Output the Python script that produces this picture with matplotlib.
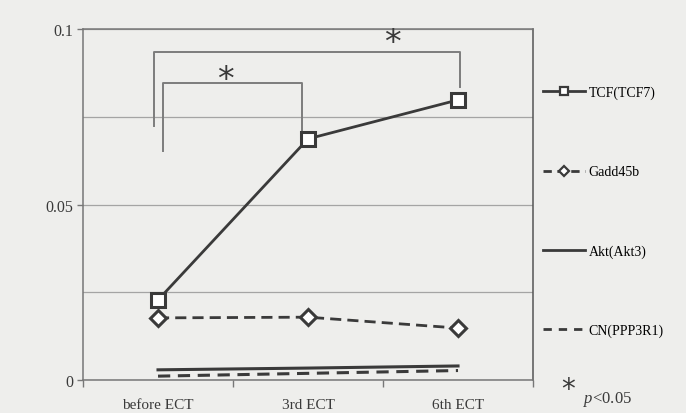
import matplotlib

matplotlib.use("Agg")
import matplotlib.pyplot as plt
from matplotlib.lines import Line2D
import numpy as np

categories = ["before ECT", "3rd ECT", "6th ECT"]
tcf = [0.0228, 0.0687, 0.0798]
gadd45b = [0.0177, 0.0179, 0.0148]
akt = [0.0029, 0.0034, 0.0040]
cn = [0.0011, 0.0019, 0.0027]
series_names = ["TCF(TCF7)", "Gadd45b", "Akt(Akt3)", "CN(PPP3R1)"]

BG = "#eeeeec"
INK = "#3a3a3a"

plt.rcParams.update({
    "font.family": ["Liberation Serif", "DejaVu Serif"],
    "mathtext.fontset": "custom",
    "mathtext.it": "Liberation Serif:italic",
    "mathtext.rm": "Liberation Serif",
})

fig = plt.figure(figsize=(6.86, 4.14), dpi=100, facecolor=BG)
ax = fig.add_axes([0.121, 0.0797, 0.656, 0.8478], facecolor=BG)

x = np.arange(len(categories))

ax.plot(x, tcf, color=INK, lw=2.0, marker="s", ms=10, mfc="white", mec=INK, mew=2.2, zorder=4)
ax.plot(x, gadd45b, color=INK, lw=2.0, ls=(0, (4, 2.2)), marker="D", ms=8, mfc="white", mec=INK, mew=2.2, zorder=4)
ax.plot(x, akt, color=INK, lw=2.2, zorder=3)
ax.plot(x, cn, color=INK, lw=2.2, ls=(0, (4, 2.5)), zorder=3)

# significance brackets (before vs 6th, before vs 3rd)
bc = "#7c7c7c"
ax.plot([-0.03, -0.03, 2.01, 2.01], [0.0724, 0.0934, 0.0934, 0.0835], color=bc, lw=1.4, zorder=2)
ax.plot([0.03, 0.03, 0.96, 0.96], [0.0652, 0.0846, 0.0846, 0.0709], color=bc, lw=1.4, zorder=2)
ax.text(1.56, 0.0962, "*", fontsize=24, ha="center", va="center", color=INK, family="DejaVu Sans")
ax.text(0.45, 0.0857, "*", fontsize=24, ha="center", va="center", color=INK, family="DejaVu Sans")

ax.set_xlim(-0.5, 2.5)
ax.set_ylim(0, 0.1)
ax.set_yticks([0, 0.05, 0.1])
ax.set_yticklabels(["0", "0.05", "0.1"])
ax.set_yticks([0.025, 0.075], minor=True)
ax.set_xticks(x)
ax.set_xticklabels(categories)
ax.set_xticks([-0.5, 0.5, 1.5, 2.5], minor=True)
ax.tick_params(axis="x", which="major", length=0, pad=13, labelsize=11, colors=INK)
ax.tick_params(axis="x", which="minor", length=5, width=1, color="#777777", direction="out")
ax.tick_params(axis="y", which="major", length=4, width=1, color="#777777", labelsize=11.5, labelcolor=INK, pad=3)
ax.tick_params(axis="y", which="minor", length=0)
ax.grid(True, axis="y", which="both", color="#a4a4a4", lw=0.9)
ax.set_axisbelow(True)
for side in ["left", "right", "top", "bottom"]:
    ax.spines[side].set_color("#777777")
    ax.spines[side].set_linewidth(1.1)
ax.spines["right"].set_color("#555555")

handles = [
    Line2D([], [], color=INK, lw=2.0, marker="s", ms=6, mfc="white", mec=INK, mew=1.6),
    Line2D([], [], color=INK, lw=2.0, ls=(0, (3, 2)), marker="D", ms=5, mfc="white", mec=INK, mew=1.6),
    Line2D([], [], color=INK, lw=2.0),
    Line2D([], [], color=INK, lw=2.0, ls=(0, (3, 2.5))),
]
fig.legend(handles, series_names, loc="upper left", bbox_to_anchor=(0.7915, 0.79),
           frameon=False, fontsize=10, labelspacing=4.75, handlelength=3.0,
           handletextpad=0.3, borderaxespad=0, borderpad=0)

fig.text(0.828, 0.058, "*", fontsize=20, ha="center", va="center", color=INK, family="DejaVu Sans")
fig.text(0.85, 0.034, "$p$<0.05", fontsize=12, ha="left", va="center", color=INK)

fig.savefig("out.png", dpi=100, facecolor=BG)
